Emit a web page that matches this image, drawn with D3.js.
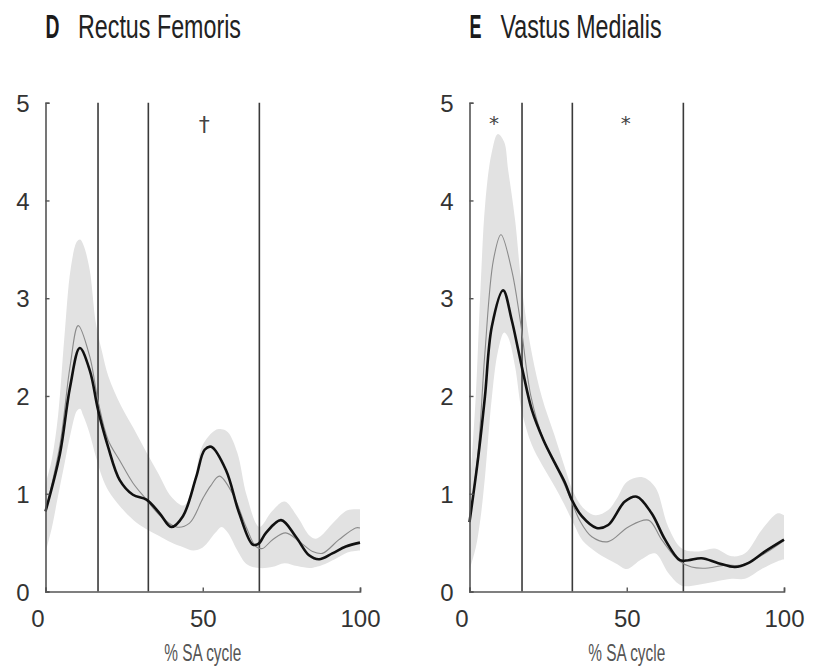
<!DOCTYPE html>
<html>
<head>
<meta charset="utf-8">
<script src="https://cdn.jsdelivr.net/npm/d3@7"></script>
<style>
  body { margin: 0; background: #fff; }
  svg { display: block; }
</style>
</head>
<body>
<div id="chart"></div>
<script>
// phase boundaries (% SA cycle)
const phaseLines = [16.7, 32.7, 68];
const xTicks = [0, 50, 100];
const yTicks = [0, 1, 2, 3, 4, 5];

// D - Rectus Femoris
const rfThickX = [0, 4.6, 7.8, 10.9, 14.1, 16.7, 19.9, 23.6, 27.8, 32.1, 36.3, 40, 43.7, 47.9, 50.6, 52.7, 57.4, 61.6, 65.9, 67.8, 70.1, 74.9, 79.6, 83.8, 87, 91.2, 95.5, 100];
const rfThickY = [0.82, 1.41, 2.09, 2.49, 2.26, 1.86, 1.48, 1.14, 0.99, 0.94, 0.80, 0.66, 0.77, 1.17, 1.45, 1.48, 1.24, 0.80, 0.48, 0.49, 0.60, 0.73, 0.56, 0.37, 0.33, 0.39, 0.46, 0.50];
const rfThinX = [0, 4.6, 7.8, 10.4, 14.1, 16.7, 19.9, 23.6, 27.8, 32.1, 36.3, 41.6, 45.8, 50, 52.5, 55.3, 59.5, 63.8, 66.9, 69, 72.2, 76.4, 80.7, 84.9, 88, 93.3, 98.6, 100];
const rfThinY = [0.82, 1.5, 2.3, 2.72, 2.40, 1.95, 1.55, 1.34, 1.11, 0.94, 0.78, 0.66, 0.70, 0.95, 1.08, 1.18, 1.0, 0.66, 0.46, 0.44, 0.53, 0.60, 0.51, 0.41, 0.39, 0.53, 0.65, 0.65];
const rfBandX = [0, 2, 4, 6, 8, 10, 11, 12, 14, 16, 18, 20, 24, 28, 32, 36, 40, 44, 47, 50, 54, 56, 58, 61, 64, 68, 72, 76, 80, 84, 86, 88, 92, 96, 100];
const rfBandHi = [1.1, 1.35, 1.8, 2.6, 3.3, 3.58, 3.6, 3.55, 3.3, 2.75, 2.45, 2.2, 1.9, 1.67, 1.43, 1.2, 0.97, 0.88, 1.1, 1.5, 1.65, 1.66, 1.63, 1.42, 0.98, 0.66, 0.82, 0.92, 0.77, 0.57, 0.54, 0.58, 0.72, 0.83, 0.84];
const rfBandLo = [0.4, 0.65, 0.98, 1.3, 1.62, 1.85, 1.87, 1.8, 1.62, 1.38, 1.17, 1.03, 0.86, 0.73, 0.64, 0.57, 0.5, 0.45, 0.42, 0.45, 0.6, 0.66, 0.6, 0.42, 0.28, 0.24, 0.25, 0.29, 0.26, 0.24, 0.25, 0.27, 0.33, 0.4, 0.42];

// E - Vastus Medialis
const vmThickX = [0, 2.8, 4.9, 7.1, 10.7, 13.4, 15.5, 17.1, 19.8, 23.5, 27.2, 30.4, 32.5, 35.7, 40.4, 44.1, 49.4, 53.2, 57.9, 62.2, 66.9, 69.6, 73.8, 79.1, 84.4, 88.6, 94, 100];
const vmThickY = [0.71, 1.38, 1.99, 2.71, 3.08, 2.78, 2.47, 2.23, 1.86, 1.55, 1.31, 1.11, 0.94, 0.77, 0.65, 0.68, 0.92, 0.97, 0.80, 0.53, 0.32, 0.32, 0.34, 0.29, 0.25, 0.29, 0.41, 0.53];
const vmThinX = [0, 2.8, 4.9, 7.6, 10, 13.4, 16.1, 19.5, 23.5, 27.2, 30.4, 32.5, 35, 38.9, 44.1, 50.5, 56.9, 61.1, 66.4, 70.6, 75.9, 81.2, 86.5, 94, 100];
const vmThinY = [0.71, 1.45, 2.44, 3.39, 3.65, 3.29, 2.78, 2.0, 1.55, 1.30, 1.08, 0.92, 0.73, 0.56, 0.51, 0.66, 0.73, 0.53, 0.32, 0.25, 0.24, 0.27, 0.27, 0.39, 0.52];
const vmBandX = [0, 2, 3.5, 5, 7, 9, 11, 12.3, 14.5, 16.6, 19.8, 23, 27, 30, 33, 36, 40, 44, 47, 50, 54.7, 59, 63.2, 67.5, 72.8, 78, 83.4, 87.6, 92.9, 98, 100];
const vmBandHi = [1.0, 2.0, 3.1, 3.97, 4.48, 4.68, 4.6, 4.31, 3.8, 3.12, 2.44, 1.99, 1.6, 1.3, 1.02, 0.86, 0.78, 0.83, 0.96, 1.12, 1.17, 1.07, 0.66, 0.44, 0.41, 0.44, 0.36, 0.39, 0.63, 0.8, 0.78];
const vmBandLo = [0.22, 0.45, 0.75, 1.2, 1.95, 2.45, 2.65, 2.6, 2.3, 1.85, 1.5, 1.3, 1.08, 0.9, 0.7, 0.52, 0.41, 0.33, 0.28, 0.23, 0.33, 0.39, 0.19, 0.06, 0.07, 0.1, 0.13, 0.13, 0.23, 0.31, 0.33];

const svg = d3.select("#chart").append("svg")
  .attr("width", 821)
  .attr("height", 669);

function drawPanel(p) {
  const x = d3.scaleLinear().domain([0, 100]).range([p.left, p.left + 314.5]);
  const y = d3.scaleLinear().domain([0, 5]).range([591.5, 102.7]);
  const g = svg.append("g");

  const band = p.bandX.map((t, i) => ({ t, hi: p.bandHi[i], lo: p.bandLo[i] }));
  g.append("path")
    .datum(band)
    .attr("fill", "#e2e2e2")
    .attr("d", d3.area()
      .x(d => x(d.t))
      .y0(d => y(d.lo))
      .y1(d => y(d.hi))
      .curve(d3.curveCatmullRom.alpha(0.5)));

  // phase boundaries
  g.selectAll(".phase")
    .data(phaseLines)
    .enter()
    .append("line")
    .attr("x1", d => x(d))
    .attr("x2", d => x(d))
    .attr("y1", y(0))
    .attr("y2", y(5))
    .attr("stroke", "#3a3a3a")
    .attr("stroke-width", 1.6);

  const line = d3.line()
    .x(d => x(d[0]))
    .y(d => y(d[1]))
    .curve(d3.curveCatmullRom.alpha(0.5));

  g.append("path")
    .datum(p.thinX.map((t, i) => [t, p.thinY[i]]))
    .attr("fill", "none")
    .attr("stroke", "#8a8a8a")
    .attr("stroke-width", 1.1)
    .attr("d", line);

  g.append("path")
    .datum(p.thickX.map((t, i) => [t, p.thickY[i]]))
    .attr("fill", "none")
    .attr("stroke", "#111")
    .attr("stroke-width", 2.6)
    .attr("d", line);

  // axes, ticks pointing inward
  const yAxis = g.append("g")
    .attr("transform", `translate(${p.left},0)`)
    .call(d3.axisLeft(y).tickValues(yTicks).tickFormat(d3.format("d")).tickSize(-4).tickPadding(16));
  const xAxis = g.append("g")
    .attr("transform", `translate(0,${y(0)})`)
    .call(d3.axisBottom(x).tickValues(xTicks).tickFormat(d3.format("d")).tickSize(-4).tickPadding(18));

  [yAxis, xAxis].forEach(a => {
    a.select(".domain").attr("stroke", "#555").attr("stroke-width", 1.6);
    a.selectAll(".tick line").attr("stroke", "#555").attr("stroke-width", 1.4);
    a.selectAll("text")
      .attr("fill", "#333")
      .style("font-family", "Liberation Sans, Arial, sans-serif")
      .style("font-size", "24px");
  });
  yAxis.selectAll("text").attr("dy", "0.36em");
  xAxis.selectAll("text").attr("dx", d => d === 0 ? -8 : 0);

  // titles
  svg.append("text")
    .attr("x", p.left)
    .attr("y", 37.5)
    .attr("fill", "#1a1a1a")
    .style("font-family", "Liberation Sans Narrow, Liberation Sans, sans-serif")
    .style("font-weight", "bold")
    .style("font-size", "33px")
    .attr("textLength", p.letterW)
    .attr("lengthAdjust", "spacingAndGlyphs")
    .text(p.letter);

  svg.append("text")
    .attr("x", p.titleX)
    .attr("y", 37.5)
    .attr("fill", "#222")
    .style("font-family", "Liberation Sans Narrow, Liberation Sans, sans-serif")
    .style("font-size", "33px")
    .attr("textLength", p.titleW)
    .attr("lengthAdjust", "spacingAndGlyphs")
    .text(p.title);

  svg.append("text")
    .attr("x", x(50) - 38.5)
    .attr("y", 661)
    .attr("fill", "#555")
    .style("font-family", "Liberation Sans Narrow, Liberation Sans, sans-serif")
    .style("font-size", "24px")
    .attr("textLength", 77)
    .attr("lengthAdjust", "spacingAndGlyphs")
    .text("% SA cycle");

  // significance marks
  g.selectAll(".mark")
    .data(p.marks)
    .enter()
    .append("text")
    .attr("x", d => x(d.t))
    .attr("y", d => y(d.v))
    .attr("text-anchor", "middle")
    .attr("fill", "#444")
    .style("font-family", "DejaVu Sans, sans-serif")
    .style("font-size", d => d.s === "*" ? "20px" : "22px")
    .text(d => d.s);
}

drawPanel({
  left: 45.5, letter: "D", letterW: 14, title: "Rectus Femoris", titleX: 78, titleW: 163,
  thickX: rfThickX, thickY: rfThickY, thinX: rfThinX, thinY: rfThinY,
  bandX: rfBandX, bandHi: rfBandHi, bandLo: rfBandLo,
  marks: [{ t: 50.5, v: 4.7, s: "†" }]
});

drawPanel({
  left: 469.5, letter: "E", letterW: 12, title: "Vastus Medialis", titleX: 500.5, titleW: 161,
  thickX: vmThickX, thickY: vmThickY, thinX: vmThinX, thinY: vmThinY,
  bandX: vmBandX, bandHi: vmBandHi, bandLo: vmBandLo,
  marks: [{ t: 7.8, v: 4.72, s: "*" }, { t: 49.7, v: 4.72, s: "*" }]
});
</script>
</body>
</html>
